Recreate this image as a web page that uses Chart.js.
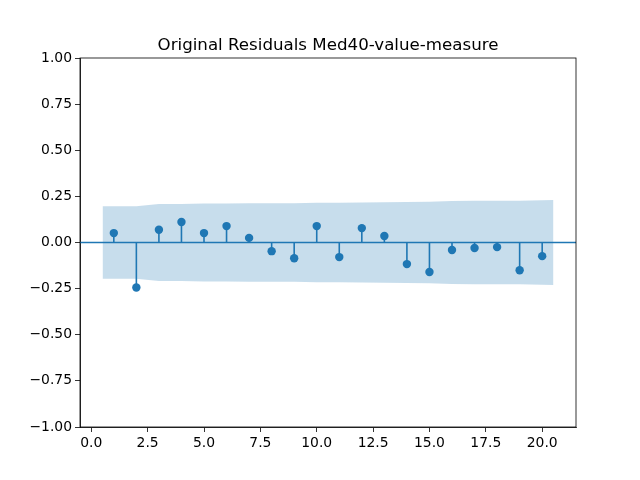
<!DOCTYPE html>
<html>
<head>
<meta charset="utf-8">
<style>
  html, body { margin: 0; padding: 0; background: #fff; }
  #wrap { width: 640px; height: 480px; }
</style>
<script src="https://cdn.jsdelivr.net/npm/chart.js@4"></script>
</head>
<body>
<div id="wrap"><canvas id="c" width="640" height="480"></canvas></div>
<script>
const titleText = "Original Residuals Med40-value-measure";
const lags = [1, 2, 3, 4, 5, 6, 7, 8, 9, 10, 11, 12, 13, 14, 15, 16, 17, 18, 19, 20];
const acfValues = [0.051, -0.244, 0.069, 0.111, 0.051, 0.089, 0.025, -0.047, -0.085, 0.089,
                   -0.079, 0.078, 0.035, -0.117, -0.160, -0.041, -0.030, -0.025, -0.150, -0.074];
const bandX = [0.5, 2, 3, 4, 5, 6, 7, 8, 9, 10, 11, 12, 13, 14, 15, 16, 17, 18, 19, 20.5];
const bandHalf = [0.196, 0.197, 0.208, 0.209, 0.211, 0.211, 0.213, 0.213, 0.213, 0.215,
                  0.216, 0.217, 0.218, 0.219, 0.221, 0.225, 0.226, 0.226, 0.226, 0.230];
const xTicks = [0, 2.5, 5, 7.5, 10, 12.5, 15, 17.5, 20];
const yTicks = [-1, -0.75, -0.5, -0.25, 0, 0.25, 0.5, 0.75, 1];
const xRange = [-0.5, 21.5];
const yRange = [-1, 1];

const C0 = '#1f77b4';
const FONT = "'DejaVu Sans', sans-serif";
const minus = s => s.replace('-', '\u2212');

const stemPlugin = {
  id: 'stems',
  beforeDatasetsDraw(chart) {
    const ctx = chart.ctx, xs = chart.scales.x, ys = chart.scales.y, a = chart.chartArea;
    ctx.save();
    ctx.beginPath();
    ctx.rect(a.left, a.top, a.right - a.left, a.bottom - a.top);
    ctx.clip();
    ctx.strokeStyle = C0;
    ctx.lineWidth = 1.6;
    const y0 = ys.getPixelForValue(0);
    ctx.beginPath();
    ctx.moveTo(a.left, y0);
    ctx.lineTo(a.right, y0);
    ctx.stroke();
    lags.forEach((l, i) => {
      const px = xs.getPixelForValue(l);
      ctx.beginPath();
      ctx.moveTo(px, y0);
      ctx.lineTo(px, ys.getPixelForValue(acfValues[i]));
      ctx.stroke();
    });
    ctx.restore();
  },
  afterDraw(chart) {
    const ctx = chart.ctx, a = chart.chartArea;
    ctx.save();
    ctx.strokeStyle = '#000';
    ctx.lineWidth = 0.8;
    ctx.strokeRect(a.left, a.top, a.right - a.left, a.bottom - a.top);
    ctx.fillStyle = '#000';
    ctx.font = "16.67px " + FONT;
    ctx.textAlign = 'center';
    ctx.textBaseline = 'alphabetic';
    ctx.fillText(titleText, (a.left + a.right) / 2, a.top - 8.3);
    ctx.restore();
  }
};

new Chart(document.getElementById('c'), {
  type: 'scatter',
  data: {
    datasets: [
      {
        label: 'upper',
        data: bandX.map((x, i) => ({ x: x, y: bandHalf[i] })),
        showLine: true, pointRadius: 0, borderWidth: 0, borderColor: 'rgba(0,0,0,0)',
        backgroundColor: 'rgba(31,119,180,0.25)', fill: '+1', tension: 0, order: 1
      },
      {
        label: 'lower',
        data: bandX.map((x, i) => ({ x: x, y: -bandHalf[i] })),
        showLine: true, pointRadius: 0, borderWidth: 0, borderColor: 'rgba(0,0,0,0)',
        backgroundColor: 'rgba(0,0,0,0)', fill: false, tension: 0, order: 2
      },
      {
        label: 'acf',
        data: lags.map((l, i) => ({ x: l, y: acfValues[i] })),
        pointRadius: 4.2, pointHoverRadius: 4.2, pointBackgroundColor: C0,
        pointBorderWidth: 0, borderColor: C0, showLine: false, order: 3
      }
    ]
  },
  options: {
    responsive: false,
    animation: false,
    devicePixelRatio: 1,
    layout: { padding: { left: 0, right: 64, top: 58, bottom: 0 } },
    plugins: {
      legend: { display: false },
      tooltip: { enabled: false },
      title: { display: false }
    },
    scales: {
      x: {
        type: 'linear', min: xRange[0], max: xRange[1],
        afterBuildTicks: s => { s.ticks = xTicks.map(v => ({ value: v })); },
        afterFit: s => { s.height = 53; },
        ticks: {
          color: '#000', font: { family: FONT, size: 13.9 }, padding: 3,
          maxRotation: 0, autoSkip: false,
          callback: v => minus(Number(v).toFixed(1))
        },
        grid: { display: true, drawOnChartArea: false, drawTicks: true, tickLength: 5, color: '#000', lineWidth: 0.8 },
        border: { display: true, color: '#000', width: 0.8 }
      },
      y: {
        type: 'linear', min: yRange[0], max: yRange[1],
        afterBuildTicks: s => { s.ticks = yTicks.map(v => ({ value: v })); },
        afterFit: s => { s.width = 80; },
        ticks: {
          color: '#000', font: { family: FONT, size: 13.9 }, padding: 3, autoSkip: false,
          callback: v => minus(Number(v).toFixed(2))
        },
        grid: { display: true, drawOnChartArea: false, drawTicks: true, tickLength: 5, color: '#000', lineWidth: 0.8 },
        border: { display: true, color: '#000', width: 0.8 }
      }
    }
  },
  plugins: [stemPlugin]
});
</script>
</body>
</html>
